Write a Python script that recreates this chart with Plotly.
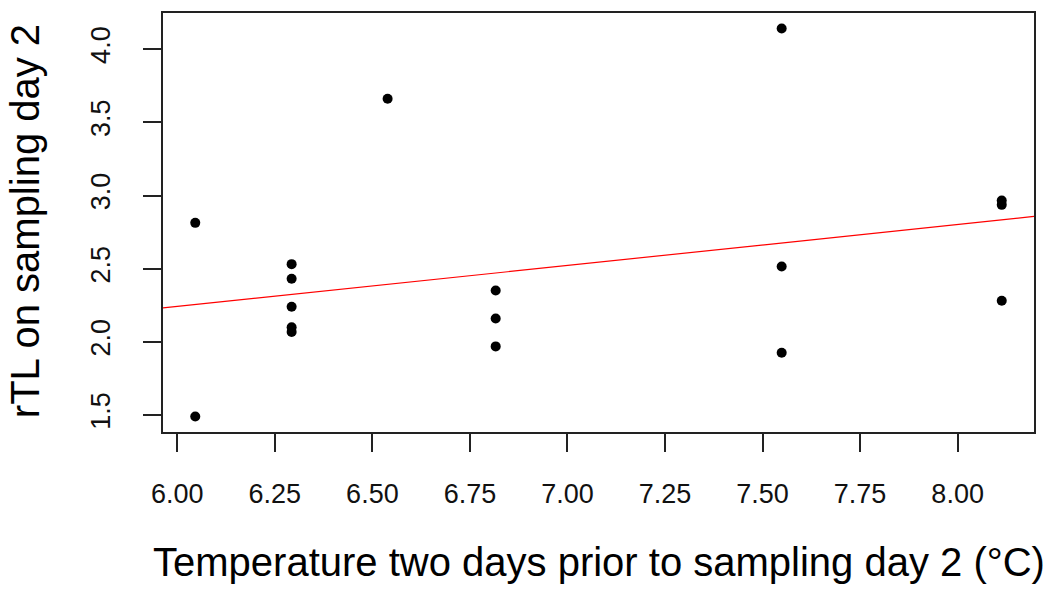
import plotly.graph_objects as go

# Data
temp_c = [6.046, 6.046,
          6.293, 6.293, 6.293, 6.293, 6.293,
          6.539,
          6.816, 6.816, 6.816,
          7.549, 7.549, 7.549,
          8.113, 8.113, 8.113]
rtl_day2 = [2.813, 1.490,
            2.531, 2.431, 2.240, 2.100, 2.068,
            3.661,
            2.351, 2.160, 1.969,
            4.141, 2.515, 1.926,
            2.965, 2.936, 2.281]

# Fitted regression line
fit_intercept = 0.562
fit_slope = 0.280

x_ticks = [6.00, 6.25, 6.50, 6.75, 7.00, 7.25, 7.50, 7.75, 8.00]
x_tick_text = ["6.00", "6.25", "6.50", "6.75", "7.00", "7.25", "7.50", "7.75", "8.00"]
y_ticks = [1.5, 2.0, 2.5, 3.0, 3.5, 4.0]
y_tick_text = ["1.5", "2.0", "2.5", "3.0", "3.5", "4.0"]

x_title = "Temperature two days prior to sampling day 2 (°C)"
y_title = "rTL on sampling day 2"

# R-style axis ranges (4% padding)
xmin, xmax = min(temp_c), max(temp_c)
ymin, ymax = min(rtl_day2), max(rtl_day2)
xpad = 0.04 * (xmax - xmin)
ypad = 0.04 * (ymax - ymin)
xr = [xmin - xpad, xmax + xpad]
yr = [ymin - ypad, ymax + ypad]

FONT = "Liberation Sans, Arial, sans-serif"

fig = go.Figure()
fig.add_trace(go.Scatter(
    x=xr, y=[fit_intercept + fit_slope * v for v in xr],
    mode="lines", line=dict(color="#ff0000", width=1.2),
    showlegend=False, hoverinfo="skip"))
fig.add_trace(go.Scatter(
    x=temp_c, y=rtl_day2, mode="markers",
    marker=dict(color="black", size=10, line=dict(width=0)),
    showlegend=False))

fig.update_layout(
    width=1053, height=590,
    margin=dict(l=163, r=19, t=11, b=158),
    paper_bgcolor="white", plot_bgcolor="white",
    font=dict(family=FONT, color="black"),
    xaxis=dict(range=xr, tickvals=x_ticks, ticktext=x_tick_text,
               showgrid=False, zeroline=False,
               showline=True, mirror=True, linecolor="#222", linewidth=1.5,
               ticks="outside", ticklen=18, tickwidth=1.5, tickcolor="#222",
               tickfont=dict(size=27, family=FONT, color="#111"),
               ticklabelstandoff=19),
    yaxis=dict(range=yr, tickvals=y_ticks, ticktext=y_tick_text,
               showgrid=False, zeroline=False,
               showline=True, mirror=True, linecolor="#222", linewidth=1.5,
               ticks="outside", ticklen=18, tickwidth=1.5, tickcolor="#222",
               tickangle=-90,
               tickfont=dict(size=27, family=FONT, color="#111"),
               ticklabelstandoff=22),
    annotations=[
        dict(text=x_title, xref="paper", yref="paper", x=0.5006, y=-0.31,
             xanchor="center", yanchor="middle", showarrow=False,
             font=dict(size=40, family=FONT, color="black")),
        dict(text=y_title, xref="paper", yref="paper", x=-0.159, y=0.502,
             xanchor="center", yanchor="middle", showarrow=False, textangle=-90,
             font=dict(size=40, family=FONT, color="black")),
    ],
)

fig.write_html("out.html")
